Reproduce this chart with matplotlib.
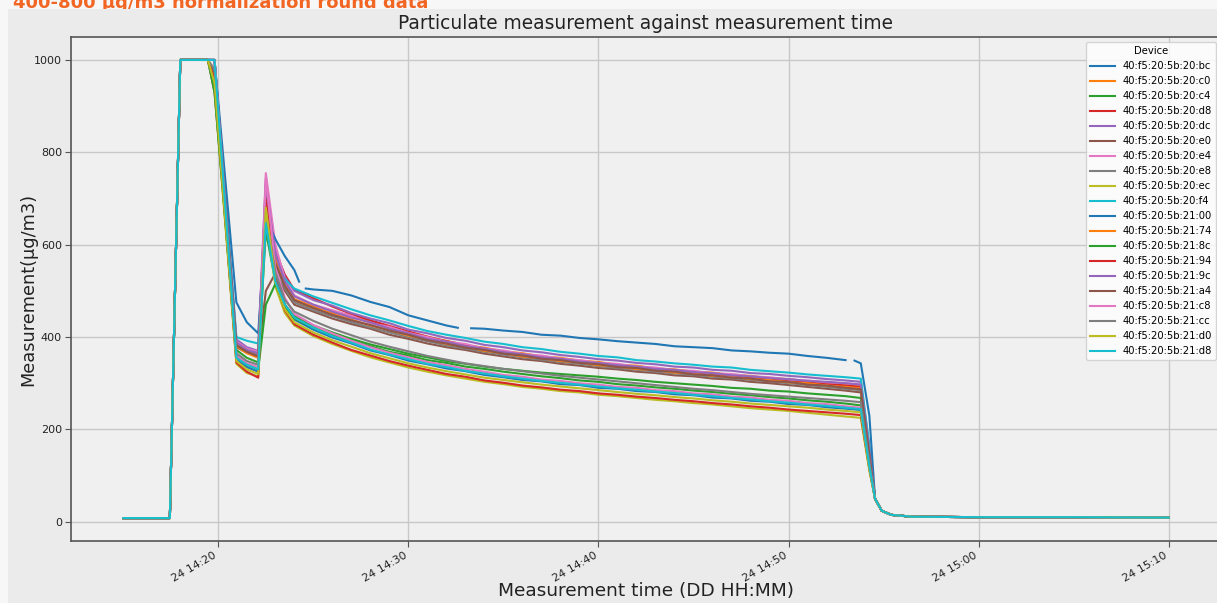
import numpy as np
import pandas as pd
import matplotlib
matplotlib.use("Agg")
import matplotlib.pyplot as plt
import matplotlib.dates as mdates
from matplotlib.patches import Rectangle

nan = np.nan

devices = [
    "40:f5:20:5b:20:bc", "40:f5:20:5b:20:c0", "40:f5:20:5b:20:c4", "40:f5:20:5b:20:d8",
    "40:f5:20:5b:20:dc", "40:f5:20:5b:20:e0", "40:f5:20:5b:20:e4", "40:f5:20:5b:20:e8",
    "40:f5:20:5b:20:ec", "40:f5:20:5b:20:f4", "40:f5:20:5b:21:00", "40:f5:20:5b:21:74",
    "40:f5:20:5b:21:8c", "40:f5:20:5b:21:94", "40:f5:20:5b:21:9c", "40:f5:20:5b:21:a4",
    "40:f5:20:5b:21:c8", "40:f5:20:5b:21:cc", "40:f5:20:5b:21:d0", "40:f5:20:5b:21:d8",
]

# reading times in minutes past 14:00 on the 24th
t_head = [15.0, 17.45, 18.0, 19.45]
t_body = [19.8, 20.95, 21.5, 22.1, 22.5, 23.0, 23.5,
          24, 25, 26, 27, 28, 29, 30, 31, 32, 33, 34, 35, 36, 37, 38,
          39, 40, 41, 42, 43, 44, 45, 46, 47, 48, 49, 50, 51, 52, 53,
          53.8, 54.25]
t_tail = [54.55, 54.9, 55.4, 56.5, 60.0, 65.0, 70.0]

# readings shared by all devices (idle baseline, saturation, clean-air tail)
v_head = [8, 8, 1000, 1000]
v_tail = [50, 24, 15, 11, 10, 10, 9]

d_20bc = [970, 352, 335, 325, 690, 530, 470,
          438, 416, 399, 386, 371, 361, 349, 341, 332, 326, 318, 313, 307, 304, 298,
          296, 290, 288, 283, 281, 276, 274, 269, 267, 262, 260, 255, 253, 248, 245,
          242, 120]
d_20c0 = [960, 385, 370, 360, 700, 570, 510,
          478, 462, 452, 448, 432, 420, 410, 398, 392, 382, 377, 369, 365, 358, 355,
          349, 346, 340, 338, 332, 330, 325, 323, 318, 316, 311, 309, 304, 302, 298,
          295, 140]
d_20c4 = [950, 372, 355, 345, 630, 520, 470,
          445, 425, 410, 396, 384, 374, 364, 356, 348, 342, 336, 331, 327, 323, 320,
          317, 314, 310, 307, 303, 300, 297, 294, 290, 288, 284, 282, 278, 275, 272,
          268, 130]
d_20d8 = [1000, 390, 373, 365, 720, 585, 535,
          502, 484, 466, 450, 436, 424, 412, 401, 391, 383, 375, 368, 362, 357, 351,
          347, 342, 338, 334, 330, 327, 323, 320, 316, 313, 309, 306, 302, 299, 295,
          292, 150]
d_20dc = [1000, 395, 378, 370, 740, 590, 530,
          500, 480, 468, 452, 440, 430, 416, 408, 398, 392, 383, 378, 371, 367, 361,
          357, 352, 349, 344, 341, 336, 334, 329, 327, 322, 320, 316, 313, 309, 306,
          303, 160]
d_20e0 = [930, 378, 366, 358, 500, 538, 500,
          470, 455, 440, 428, 418, 405, 396, 386, 378, 372, 364, 358, 352, 348, 342,
          338, 333, 330, 325, 322, 317, 315, 310, 308, 303, 300, 296, 292, 288, 284,
          280, 135]
d_20e4 = [1000, 390, 375, 368, 755, 600, 525,
          490, 470, 458, 446, 430, 422, 409, 400, 390, 385, 375, 371, 363, 360, 353,
          350, 344, 342, 336, 334, 328, 327, 321, 320, 315, 313, 308, 306, 302, 300,
          297, 150]
d_20e8 = [940, 380, 368, 360, 680, 560, 505,
          475, 458, 445, 432, 421, 410, 400, 391, 382, 375, 368, 362, 356, 351, 346,
          342, 337, 333, 329, 325, 321, 318, 314, 311, 307, 304, 300, 296, 292, 288,
          285, 140]
d_20ec = [940, 342, 322, 315, 660, 510, 452,
          425, 402, 385, 370, 356, 345, 334, 325, 317, 310, 303, 298, 292, 288, 283,
          280, 275, 272, 268, 264, 261, 257, 254, 250, 246, 243, 240, 236, 232, 228,
          225, 110]
d_20f4 = [1000, 400, 392, 386, 650, 560, 525,
          505, 488, 474, 460, 447, 436, 424, 413, 405, 398, 390, 385, 378, 374, 368,
          364, 359, 356, 350, 347, 343, 340, 336, 334, 329, 326, 323, 319, 316, 313,
          310, 165]
d_2174 = [950, 380, 365, 355, 690, 565, 515,
          482, 466, 450, 438, 425, 415, 403, 395, 385, 379, 370, 365, 358, 354, 348,
          345, 339, 336, 331, 328, 323, 321, 316, 314, 309, 307, 302, 300, 295, 292,
          289, 145]
d_218c = [930, 360, 340, 330, 470, 515, 465,
          440, 420, 404, 392, 380, 368, 360, 350, 344, 336, 331, 325, 320, 315, 311,
          306, 303, 298, 295, 291, 288, 284, 281, 277, 274, 270, 267, 263, 260, 256,
          252, 125]
d_2194 = [960, 345, 325, 312, 700, 525, 458,
          428, 405, 388, 372, 360, 348, 338, 329, 320, 314, 306, 301, 295, 291, 286,
          283, 278, 275, 271, 268, 264, 261, 257, 254, 250, 247, 243, 240, 237, 234,
          231, 115]
d_219c = [1000, 388, 372, 365, 730, 580, 520,
          488, 470, 455, 442, 432, 418, 408, 396, 390, 380, 375, 367, 363, 356, 353,
          347, 344, 339, 336, 331, 329, 324, 322, 317, 315, 311, 309, 305, 303, 300,
          297, 155]
d_21a4 = [1000, 382, 368, 358, 650, 560, 510,
          480, 463, 448, 436, 426, 414, 405, 393, 386, 377, 372, 364, 360, 353, 350,
          344, 341, 335, 333, 327, 325, 319, 317, 312, 310, 304, 303, 297, 295, 290,
          287, 145]
d_21c8 = [1000, 360, 343, 335, 745, 550, 485,
          450, 426, 408, 392, 378, 366, 356, 346, 339, 331, 325, 318, 314, 308, 305,
          300, 297, 292, 290, 285, 283, 278, 276, 271, 269, 264, 262, 257, 255, 250,
          247, 120]
d_21cc = [980, 365, 348, 340, 670, 540, 480,
          455, 435, 418, 404, 390, 379, 369, 359, 351, 343, 337, 331, 326, 321, 316,
          312, 308, 304, 300, 296, 292, 288, 285, 281, 277, 274, 271, 268, 265, 262,
          259, 130]
d_21d0 = [950, 348, 330, 320, 680, 520, 460,
          432, 410, 393, 379, 365, 354, 343, 334, 326, 319, 312, 307, 302, 297, 293,
          289, 285, 281, 277, 274, 270, 267, 263, 260, 256, 253, 250, 247, 243, 240,
          237, 115]
d_21d8 = [1000, 355, 340, 330, 646, 520, 470,
          442, 420, 402, 388, 373, 362, 352, 342, 335, 327, 321, 315, 310, 305, 301,
          297, 293, 289, 286, 282, 279, 275, 272, 268, 265, 261, 258, 254, 251, 247,
          244, 120]

# 21:00 dropped a few readings, so it keeps its own time stamps
t_2100 = [19.8, 20.95, 21.5, 22.1, 22.5, 23.0, 23.5,
          24.0, 24.25, 24.4, 24.6, 25, 26, 27, 28, 29, 30, 31, 32,
          32.6, 32.95, 33.3, 34, 35, 36, 37, 38, 39, 40, 41, 42, 43,
          44, 45, 46, 47, 48, 49, 50, 51, 52, 53,
          53.25, 53.47, 53.8, 54.25]
d_2100 = [1000, 475, 432, 408, 660, 612, 575,
          545, 520, nan, 505, 503, 500, 490, 476, 465, 447, 436, 425,
          420, nan, 419, 418, 414, 411, 405, 403, 398, 395, 391, 388, 385,
          380, 378, 376, 371, 369, 366, 364, 359, 355, 350,
          nan, 349, 343, 230]

readings = [
    (t_body, d_20bc), (t_body, d_20c0), (t_body, d_20c4), (t_body, d_20d8),
    (t_body, d_20dc), (t_body, d_20e0), (t_body, d_20e4), (t_body, d_20e8),
    (t_body, d_20ec), (t_body, d_20f4), (t_2100, d_2100), (t_body, d_2174),
    (t_body, d_218c), (t_body, d_2194), (t_body, d_219c), (t_body, d_21a4),
    (t_body, d_21c8), (t_body, d_21cc), (t_body, d_21d0), (t_body, d_21d8),
]

base = pd.Timestamp("2023-05-24 14:00:00")

W, H = 1217, 603
fig = plt.figure(figsize=(W / 100, H / 100), dpi=100)
fig.patch.set_facecolor("#f7f7f7")

# notebook heading above the output panel (its top runs off the page)
fig.text(13 / W, 1 - 8 / H, "400-800 μg/m3 normalization round data",
         color="#f26522", fontsize=13, fontweight="bold",
         ha="left", va="baseline", zorder=-2)
fig.add_artist(Rectangle((8 / W, 0), 1, 1 - 9 / H, transform=fig.transFigure,
                         facecolor="#ebebeb", edgecolor="none", zorder=-1))

ax = fig.add_axes([71 / W, 1 - 541 / H, (1221 - 71) / W, (541 - 37) / H])
ax.set_facecolor("#f0f0f0")

for name, (tt, vv) in zip(devices, readings):
    minutes = np.array(t_head + tt + t_tail, dtype=float)
    values = np.array(v_head + vv + v_tail, dtype=float)
    stamps = base + pd.to_timedelta(minutes, unit="min")
    ax.plot(stamps, values, lw=1.5, label=name)

ax.grid(True, color="#c8c8c8", lw=1.0)
ax.set_axisbelow(True)
for s in ax.spines.values():
    s.set_color("#555555")
    s.set_linewidth(1.2)

ax.xaxis.set_major_locator(mdates.MinuteLocator(byminute=[0, 10, 20, 30, 40, 50]))
ax.xaxis.set_major_formatter(mdates.DateFormatter("%d %H:%M"))
ax.tick_params(axis="both", labelsize=8, color="#555555", labelcolor="#222222",
               length=4, pad=2.5)
for lab in ax.get_xticklabels():
    lab.set_rotation(30)
    lab.set_ha("right")

ax.set_title("Particulate measurement against measurement time", fontsize=13.4, color="#222222")
ax.set_xlabel("Measurement time (DD HH:MM)", fontsize=13.3, color="#222222")
ax.set_ylabel("Measurement(μg/m3)", fontsize=12.8, color="#222222")
ax.xaxis.set_label_coords(0.5, -0.082)
ax.yaxis.set_label_coords(-0.0296, 0.5)

leg = ax.legend(title="Device", loc="upper right", fontsize=7.2, title_fontsize=7.2,
                handlelength=2.5, framealpha=0.8)

fig.savefig("out.png", dpi=100, facecolor=fig.get_facecolor())
